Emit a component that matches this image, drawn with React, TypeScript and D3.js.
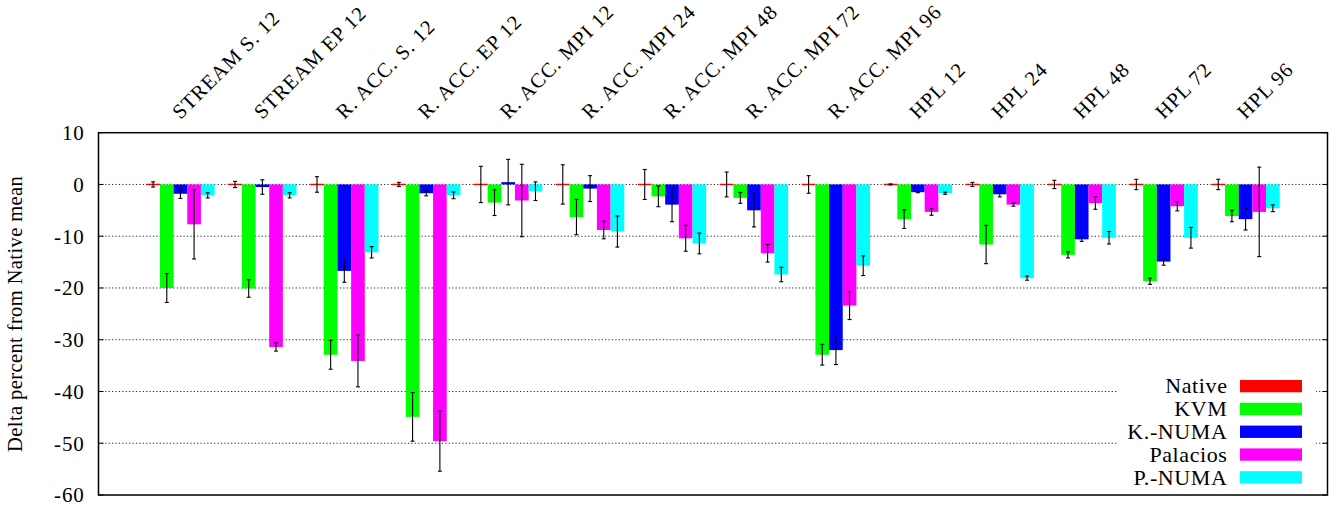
import React from "react";
import * as d3 from "d3";

// Benchmarks (one cluster each)
const categories = [
  "STREAM S. 12",
  "STREAM EP 12",
  "R. ACC. S. 12",
  "R. ACC. EP 12",
  "R. ACC. MPI 12",
  "R. ACC. MPI 24",
  "R. ACC. MPI 48",
  "R. ACC. MPI 72",
  "R. ACC. MPI 96",
  "HPL 12",
  "HPL 24",
  "HPL 48",
  "HPL 72",
  "HPL 96",
];

const seriesNames = ["Native", "KVM", "K.-NUMA", "Palacios", "P.-NUMA"];
const seriesColors = ["#ff0000", "#00ff00", "#0000ff", "#ff00ff", "#00ffff"];

// Delta percent from Native mean, with symmetric error (+/-)
const nativeValues = [0, 0, 0, 0, 0, 0, 0, 0, 0, 0, 0, 0, 0, 0];
const nativeErr = [0.5, 0.6, 1.5, 0.4, 3.5, 3.8, 2.9, 2.4, 1.7, 0.1, 0.4, 0.8, 1.0, 1.0];

const kvmValues = [-20.0, -20.1, -32.9, -44.9, -3.5, -6.3, -2.3, -2.6, -32.9, -6.7, -11.6, -13.6, -18.7, -6.1];
const kvmErr = [2.8, 1.7, 2.8, 4.7, 2.5, 3.4, 2.0, 1.05, 2.0, 1.8, 3.7, 0.6, 0.6, 1.1];

const kNumaValues = [-1.8, -0.5, -16.7, -1.7, 0.45, -0.8, -3.9, -5.0, -32.0, -1.5, -1.9, -10.6, -14.9, -6.7];
const kNumaErr = [0.9, 1.4, 2.2, 0.5, 4.4, 2.5, 3.3, 3.2, 2.8, 0.1, 0.5, 0.4, 0.7, 2.1];

const palaciosValues = [-7.7, -31.4, -34.1, -49.6, -3.1, -8.8, -10.4, -13.3, -23.4, -5.3, -3.9, -3.6, -4.2, -5.3];
const palaciosErr = [6.7, 0.8, 5.0, 5.8, 7.0, 1.7, 2.5, 1.7, 2.7, 0.65, 0.3, 1.2, 0.9, 8.65];

const pNumaValues = [-2.1, -2.1, -13.1, -2.1, -1.3, -9.1, -11.4, -17.4, -15.7, -1.7, -18.1, -10.3, -10.3, -4.6];
const pNumaErr = [0.5, 0.5, 1.1, 0.65, 1.8, 3.0, 2.0, 1.4, 1.9, 0.2, 0.4, 1.2, 2.0, 0.65];

const yTicks = [10, 0, -10, -20, -30, -40, -50, -60];
const gridLevels = [0, -10, -20, -30, -40, -50];

const seriesValues = [nativeValues, kvmValues, kNumaValues, palaciosValues, pNumaValues];
const seriesErrors = [nativeErr, kvmErr, kNumaErr, palaciosErr, pNumaErr];

const W = 1330;
const H = 506;
const FONT = "'Liberation Serif', 'Times New Roman', serif";
const LS = "0.8px";

export default function App() {
  const left = 98.5;
  const right = 1327.5;
  const top = 132.7;
  const bottom = 495;

  const x = d3.scaleLinear().domain([-1, categories.length]).range([left, right]);
  const y = d3.scaleLinear().domain([-60, 10]).range([bottom, top]);

  const nSeries = seriesNames.length;
  const slot = 1 / (nSeries + 1); // one bar gap per cluster
  const barW = x(slot) - x(0);

  const bars: React.ReactNode[] = [];
  const errs: React.ReactNode[] = [];
  categories.forEach((_, i) => {
    seriesValues.forEach((vals, j) => {
      const v = vals[i];
      const cx = x(i + (j - (nSeries - 1) / 2) * slot);
      const y0 = y(0);
      const yv = y(v);
      let yTop = Math.min(y0, yv);
      let h = Math.abs(yv - y0);
      if (h < 1.4) {
        yTop = yv - 0.7;
        h = 1.4;
      }
      bars.push(
        <rect
          key={`b${i}-${j}`}
          x={cx - barW / 2}
          y={yTop}
          width={barW}
          height={h}
          fill={seriesColors[j]}
        />
      );
      const e = seriesErrors[j][i];
      const ya = y(v + e);
      const yb = y(v - e);
      errs.push(
        <g key={`e${i}-${j}`} stroke="#000" strokeWidth={1.1}>
          <line x1={cx} x2={cx} y1={ya} y2={yb} />
          <line x1={cx - 2} x2={cx + 2} y1={ya} y2={ya} />
          <line x1={cx - 2} x2={cx + 2} y1={yb} y2={yb} />
        </g>
      );
    });
  });

  const legendX = 1240;
  const legendTop = 380;
  const legendStep = 22.8;

  return (
    <svg
      width={W}
      height={H}
      style={{ position: "absolute", left: 0, top: 0, background: "#fff" }}
      fontFamily={FONT}
      fontSize={21}
    >
      {/* grid */}
      {gridLevels.map((g) => (
        <line
          key={`g${g}`}
          x1={left}
          x2={right}
          y1={y(g)}
          y2={y(g)}
          stroke="#222"
          strokeWidth={1}
          strokeDasharray="1.2 2.2"
        />
      ))}

      {/* legend backdrop hides the grid beneath it */}
      <rect x={1118} y={372} width={198} height={121} fill="#fff" />

      {bars}
      {errs}

      {/* y ticks on both sides */}
      {yTicks.map((t) => (
        <g key={`t${t}`} stroke="#000" strokeWidth={1}>
          <line x1={left} x2={left + 5} y1={y(t)} y2={y(t)} />
          <line x1={right - 5} x2={right} y1={y(t)} y2={y(t)} />
        </g>
      ))}
      {yTicks.map((t) => (
        <text
          key={`tl${t}`}
          x={84.5}
          y={y(t)}
          dy="0.35em"
          textAnchor="end"
          style={{ letterSpacing: LS }}
        >
          {t}
        </text>
      ))}

      {/* frame */}
      <rect
        x={left}
        y={top}
        width={right - left}
        height={bottom - top}
        fill="none"
        stroke="#000"
        strokeWidth={1.5}
      />

      {/* category labels along the top */}
      {categories.map((c, i) => (
        <text
          key={`c${i}`}
          transform={`translate(${x(i)},${120}) rotate(-45)`}
          textAnchor="start"
          fontSize={20.5}
          style={{ letterSpacing: "1px" }}
        >
          {c}
        </text>
      ))}

      {/* y axis title */}
      <text
        transform={`translate(22,${(top + bottom) / 2}) rotate(-90)`}
        textAnchor="middle"
        fontSize={20.5}
        style={{ letterSpacing: "0.4px" }}
      >
        Delta percent from Native mean
      </text>

      {/* legend */}
      {seriesNames.map((s, j) => {
        const ty = legendTop + j * legendStep;
        return (
          <g key={`l${j}`}>
            <text
              x={1227.5}
              y={ty + 13.3}
              textAnchor="end"
              fontSize={22}
              style={{ letterSpacing: "0.6px" }}
            >
              {s}
            </text>
            <rect x={legendX} y={ty} width={62} height={12.3} fill={seriesColors[j]} />
          </g>
        );
      })}
    </svg>
  );
}
